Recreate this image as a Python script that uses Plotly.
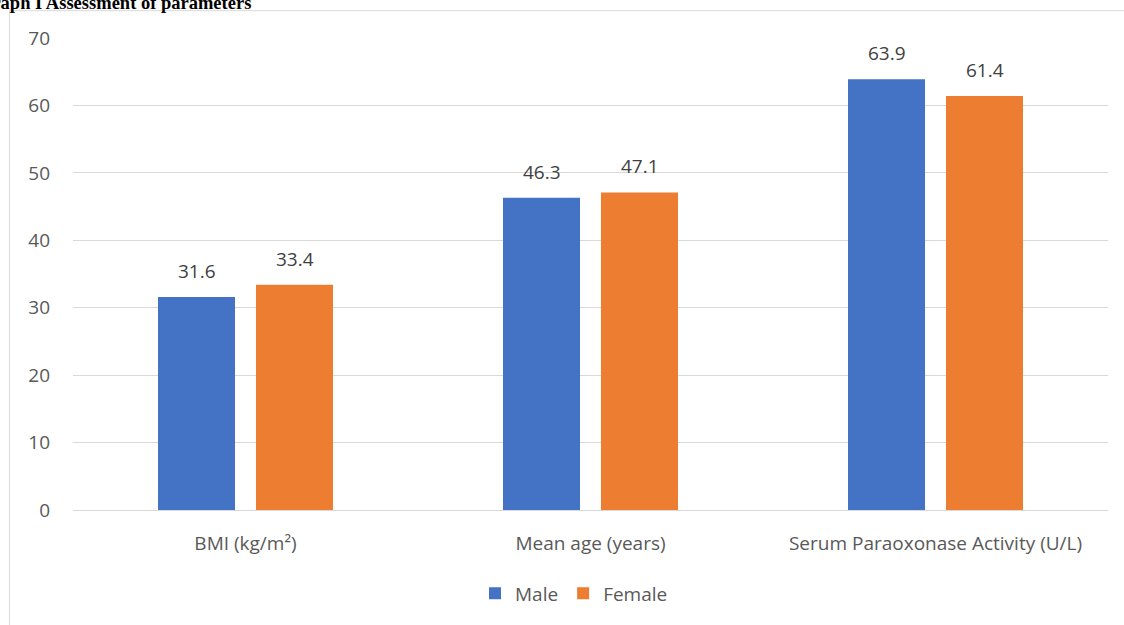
import plotly.graph_objects as go

categories = ["BMI (kg/m²)", "Mean age (years)", "Serum Paraoxonase Activity (U/L)"]
male = [31.6, 46.3, 63.9]
female = [33.4, 47.1, 61.4]
series_names = ["Male", "Female"]
colors = ["#4472C4", "#ED7D31"]
y_ticks = [0, 10, 20, 30, 40, 50, 60, 70]
title_text = "Graph I Assessment of parameters"

W, H = 1124, 625
ML, MR, MT, MB = 73, 16, 38, 112
PW, PH = W - ML - MR, H - MT - MB

def px_x(p):
    return (p - ML) / PW

def px_y(p):
    return 1 - (p - MT) / PH

font_family = "Open Sans, Lato, sans-serif"

fig = go.Figure()
for name, vals, col in zip(series_names, [male, female], colors):
    fig.add_trace(go.Bar(
        x=categories, y=vals, name=name, marker=dict(color=col, line=dict(width=0)),
        offsetgroup=name,
    ))

annotations = []
for vals, shift in zip([male, female], [-49, 49]):
    for c, v in zip(categories, vals):
        annotations.append(dict(
            x=c, y=v, xref="x", yref="y", text=f"{v:.1f}", showarrow=False,
            xshift=shift, yshift=26, yanchor="middle",
            font=dict(family=font_family, size=19, color="#404040"),
        ))

annotations.append(dict(
    x=px_x(-24), y=px_y(15), xref="paper", yref="paper", xanchor="left", yanchor="bottom",
    text=f"<b>{title_text}</b>", showarrow=False,
    font=dict(family="Liberation Serif, Times New Roman, serif", size=18.5, color="#000000"),
))

shapes = [
    dict(type="rect", xref="paper", yref="paper",
         x0=px_x(9.5), x1=px_x(W + 20), y0=px_y(H + 20), y1=px_y(10.5),
         line=dict(color="#D9D9D9", width=1), fillcolor="rgba(0,0,0,0)", layer="below"),
]

fig.update_layout(
    width=W, height=H,
    margin=dict(l=ML, r=MR, t=MT, b=MB),
    paper_bgcolor="white", plot_bgcolor="white",
    barmode="group", bargap=0.432, bargroupgap=0.214,
    showlegend=True,
    legend=dict(orientation="h", x=px_x(574), xanchor="center", y=px_y(597), yanchor="middle",
                font=dict(family=font_family, size=19, color="#595959"),
                itemwidth=30, traceorder="normal"),
    annotations=annotations,
    shapes=shapes,
    xaxis=dict(showgrid=False, showline=False, zeroline=False, ticks="",
               tickfont=dict(family=font_family, size=19, color="#595959"),
               ticklabelstandoff=20),
    yaxis=dict(range=[0, 70], tickvals=y_ticks, showgrid=True, gridcolor="#D9D9D9", gridwidth=1,
               zeroline=True, zerolinecolor="#D9D9D9", zerolinewidth=1,
               showline=False, ticks="",
               tickfont=dict(family=font_family, size=19, color="#595959"),
               ticklabelstandoff=22),
)

fig.write_html("out.html", config={"displayModeBar": False},
               post_script="document.body.style.margin='0';document.body.style.overflow='hidden';")
